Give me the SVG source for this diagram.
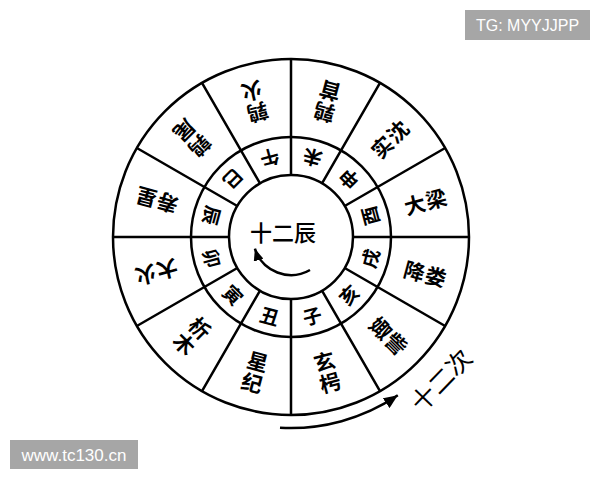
<svg xmlns="http://www.w3.org/2000/svg" width="600" height="480" viewBox="0 0 600 480">
<style>
.ln{fill:none;stroke:#000;stroke-width:2.5}
.o{font-family:"Noto Sans CJK SC","Noto Sans CJK TC",sans-serif;font-size:21px;font-weight:bold;fill:#000;text-anchor:middle;dominant-baseline:central}
.i{font-family:"Noto Sans CJK SC","Noto Sans CJK TC",sans-serif;font-size:19px;font-weight:bold;fill:#000;text-anchor:middle;dominant-baseline:central}
.wm{font-family:"Liberation Sans","Noto Sans",sans-serif;fill:#fff;text-anchor:middle;dominant-baseline:central}
</style>
<defs>
<marker id="ah" markerUnits="userSpaceOnUse" markerWidth="16" markerHeight="12" refX="14" refY="6" orient="auto"><path d="M0,0 L14,6 L0,12 Z" fill="#000"/></marker>
<marker id="ah2" markerUnits="userSpaceOnUse" markerWidth="14" markerHeight="10" refX="12" refY="5" orient="auto"><path d="M0,0 L12,5 L0,10 Z" fill="#000"/></marker>
</defs>
<rect width="600" height="480" fill="#fff"/>
<g id="wheel">
<circle class="ln" cx="291" cy="237" r="178" stroke-width="3"/>
<circle class="ln" cx="291" cy="237" r="100"/>
<circle class="ln" cx="291" cy="237" r="62"/>
<path class="ln" d="M353,237L469,237M344.69,206L445.15,148M322,183.31L380,82.85M291,175L291,59M260,183.31L202,82.85M237.31,206L136.85,148M229,237L113,237M237.31,268L136.85,326M260,290.69L202,391.15M291,299L291,415M322,290.69L380,391.15M344.69,268L445.15,326"/>
</g>
<g id="outer">
<g id="daliang"><text class="o" transform="translate(425.3,201) rotate(-15)"><tspan x="-11" y="0">大</tspan><tspan x="11" y="0">梁</tspan></text></g>
<g id="shishen"><text class="o" transform="translate(389.3,138.7) rotate(-45)"><tspan x="-11" y="0">实</tspan><tspan x="11" y="0">沈</tspan></text></g>
<g id="chunshou"><text class="o" transform="translate(327,102.7) rotate(195)"><tspan x="0" y="-11">鹑</tspan><tspan x="0" y="11">首</tspan></text></g>
<g id="chunhuo"><text class="o" transform="translate(255,102.7) rotate(165)"><tspan x="0" y="-11">鹑</tspan><tspan x="0" y="11">火</tspan></text></g>
<g id="chunwei"><text class="o" transform="translate(192.7,138.7) rotate(135)"><tspan x="0" y="-11">鹑</tspan><tspan x="0" y="11">尾</tspan></text></g>
<g id="shouxing"><text class="o" transform="translate(156.7,201) rotate(195)"><tspan x="-11" y="0">寿</tspan><tspan x="11" y="0">星</tspan></text></g>
<g id="dahuo"><text class="o" transform="translate(156.7,273) rotate(165)"><tspan x="-11" y="0">大</tspan><tspan x="11" y="0">火</tspan></text></g>
<g id="ximu"><text class="o" transform="translate(192.7,335.3) rotate(45)"><tspan x="0" y="-11">析</tspan><tspan x="0" y="11">木</tspan></text></g>
<g id="xingji"><text class="o" transform="translate(255,371.3) rotate(15)"><tspan x="0" y="-11">星</tspan><tspan x="0" y="11">纪</tspan></text></g>
<g id="xuanxiao"><text class="o" transform="translate(327,371.3) rotate(-15)"><tspan x="0" y="-11">玄</tspan><tspan x="0" y="11">枵</tspan></text></g>
<g id="juzi"><text class="o" transform="translate(389.3,335.3) rotate(45)"><tspan x="-11" y="0">娵</tspan><tspan x="11" y="0">訾</tspan></text></g>
<g id="jianglou"><text class="o" transform="translate(425.3,273) rotate(15)"><tspan x="-11" y="0">降</tspan><tspan x="11" y="0">娄</tspan></text></g>
</g>
<g id="inner">
<g id="you"><text class="i" transform="translate(369.2,216) rotate(-105)">酉</text></g>
<g id="shen"><text class="i" transform="translate(348.3,179.7) rotate(-135)">申</text></g>
<g id="wei"><text class="i" transform="translate(312,158.8) rotate(-165)">未</text></g>
<g id="wu"><text class="i" transform="translate(270,158.8) rotate(165)">午</text></g>
<g id="si"><text class="i" transform="translate(233.7,179.7) rotate(135)">巳</text></g>
<g id="chen"><text class="i" transform="translate(212.8,216) rotate(105)">辰</text></g>
<g id="mao"><text class="i" transform="translate(212.8,258) rotate(75)">卯</text></g>
<g id="yin"><text class="i" transform="translate(233.7,294.3) rotate(45)">寅</text></g>
<g id="chou"><text class="i" transform="translate(270,315.2) rotate(15)">丑</text></g>
<g id="zi"><text class="i" transform="translate(312,315.2) rotate(-15)">子</text></g>
<g id="hai"><text class="i" transform="translate(348.3,294.3) rotate(-45)">亥</text></g>
<g id="xu"><text class="i" transform="translate(369.2,258) rotate(-75)">戌</text></g>
</g>
<g id="center">
<text x="283" y="231" font-family="Noto Sans CJK SC, sans-serif" font-size="22" font-weight="500" text-anchor="middle" dominant-baseline="central">十二辰</text>
</g>
<g id="connectors">
<path class="ln" d="M310,270 A38,38 0 0 1 254.9,248.7" marker-end="url(#ah2)"/>
<path class="ln" d="M280,427.7 A191,191 0 0 0 397.8,395.3" marker-end="url(#ah)"/>
</g>
<g id="label-shierci">
<text transform="translate(440,379) rotate(-46)" font-family="Noto Sans CJK SC, sans-serif" font-size="25" text-anchor="middle" dominant-baseline="central">十二次</text>
</g>
<g id="watermarks">
<rect x="465" y="10" width="125" height="30" fill="#a6a6a6"/>
<text class="wm" x="527.5" y="25.5" font-size="16">TG: MYYJJPP</text>
<rect x="10" y="440" width="128" height="29" fill="#a6a6a6"/>
<text class="wm" x="74" y="455" font-size="17">www.tc130.cn</text>
</g>
</svg>
